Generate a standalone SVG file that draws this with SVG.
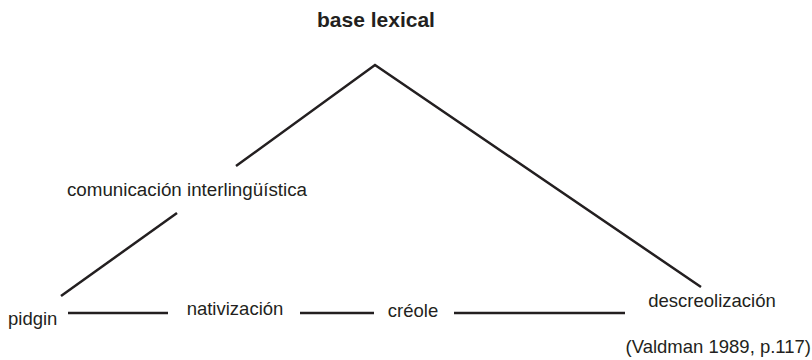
<svg xmlns="http://www.w3.org/2000/svg" width="812" height="360" viewBox="0 0 812 360">
<style>
text{font-family:"Liberation Sans",Arial,sans-serif;font-size:18.5px;fill:#231f20}
.b{font-weight:bold;font-size:21px}
.ln{stroke:#231f20;stroke-width:2.5;fill:none}
</style>
<rect width="812" height="360" fill="#fff"/>
<g id="connectors">
<polyline class="ln" points="236,166 375,65 701,287"/>
<line class="ln" x1="177" y1="213" x2="61" y2="296"/>
<line class="ln" x1="68" y1="313" x2="168" y2="313"/>
<line class="ln" x1="300" y1="313" x2="374" y2="313"/>
<line class="ln" x1="454" y1="313" x2="625" y2="313"/>
</g>
<g id="base"><text class="b" x="376" y="27" text-anchor="middle">base lexical</text></g>
<g id="comunicacion"><text x="187" y="196" text-anchor="middle" style="font-size:18.8px">comunicación interlingüística</text></g>
<g id="pidgin"><text x="8" y="325">pidgin</text></g>
<g id="nativizacion"><text x="235" y="315" text-anchor="middle">nativización</text></g>
<g id="creole"><text x="413" y="317" text-anchor="middle">créole</text></g>
<g id="descreolizacion"><text x="712" y="307" text-anchor="middle">descreolización</text></g>
<g id="source"><text x="811" y="353" text-anchor="end">(Valdman 1989, p.117)</text></g>
</svg>
